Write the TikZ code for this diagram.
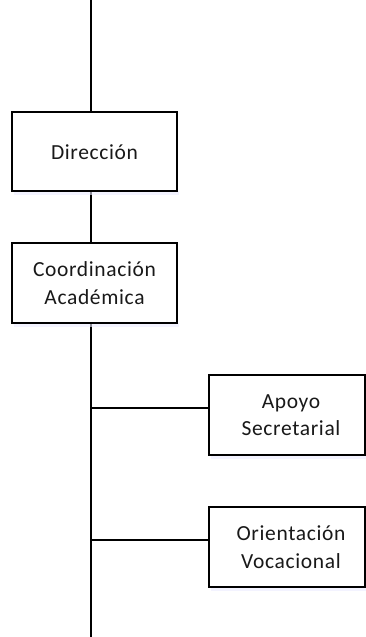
\documentclass[tikz,border=0pt]{standalone}
\usepackage{fontspec}
\setmainfont{Carlito}[LetterSpace=3]
\begin{document}
\begin{tikzpicture}[x=1pt,y=-1pt,
  box/.style={draw=black,line width=1.3pt,fill=white},
  lbl/.style={font=\fontsize{21.5}{27.5}\selectfont,align=center,inner sep=0pt,text=black!90},
  conn/.style={line width=2pt,draw=black}]
\useasboundingbox (0,0) rectangle (366,637);
\coordinate (top) at (91,0);
\coordinate (bot) at (91,637);
\coordinate (j1) at (91,408);
\coordinate (j2) at (91,540);
\draw[conn] (top) -- (bot);
% shadows
\foreach \a/\b/\c/\d in {12/112/177/191, 12/243/177/323, 209/375/365/455, 209/507/365/587}{
  \fill[blue!8,opacity=0.6] (\a+2,\d) rectangle (\c+2,\d+4);
}
\draw[box] (12,112) rectangle (177,191);
\node[lbl] (dir) at (94.5,152) {Direcci\'on};
\draw[box] (12,243) rectangle (177,323);
\node[lbl] (coord) at (94.5,283) {Coordinaci\'on\\Acad\'emica};
\draw[box] (209,375) rectangle (365,455);
\node[lbl] (apoyo) at (291,415) {Apoyo\\Secretarial};
\draw[box] (209,507) rectangle (365,587);
\node[lbl] (orient) at (291,547) {Orientaci\'on\\Vocacional};
\coordinate (a1) at (209,408);
\coordinate (a2) at (209,540);
\draw[conn] (j1) -- (a1);
\draw[conn] (j2) -- (a2);
\end{tikzpicture}
\end{document}
